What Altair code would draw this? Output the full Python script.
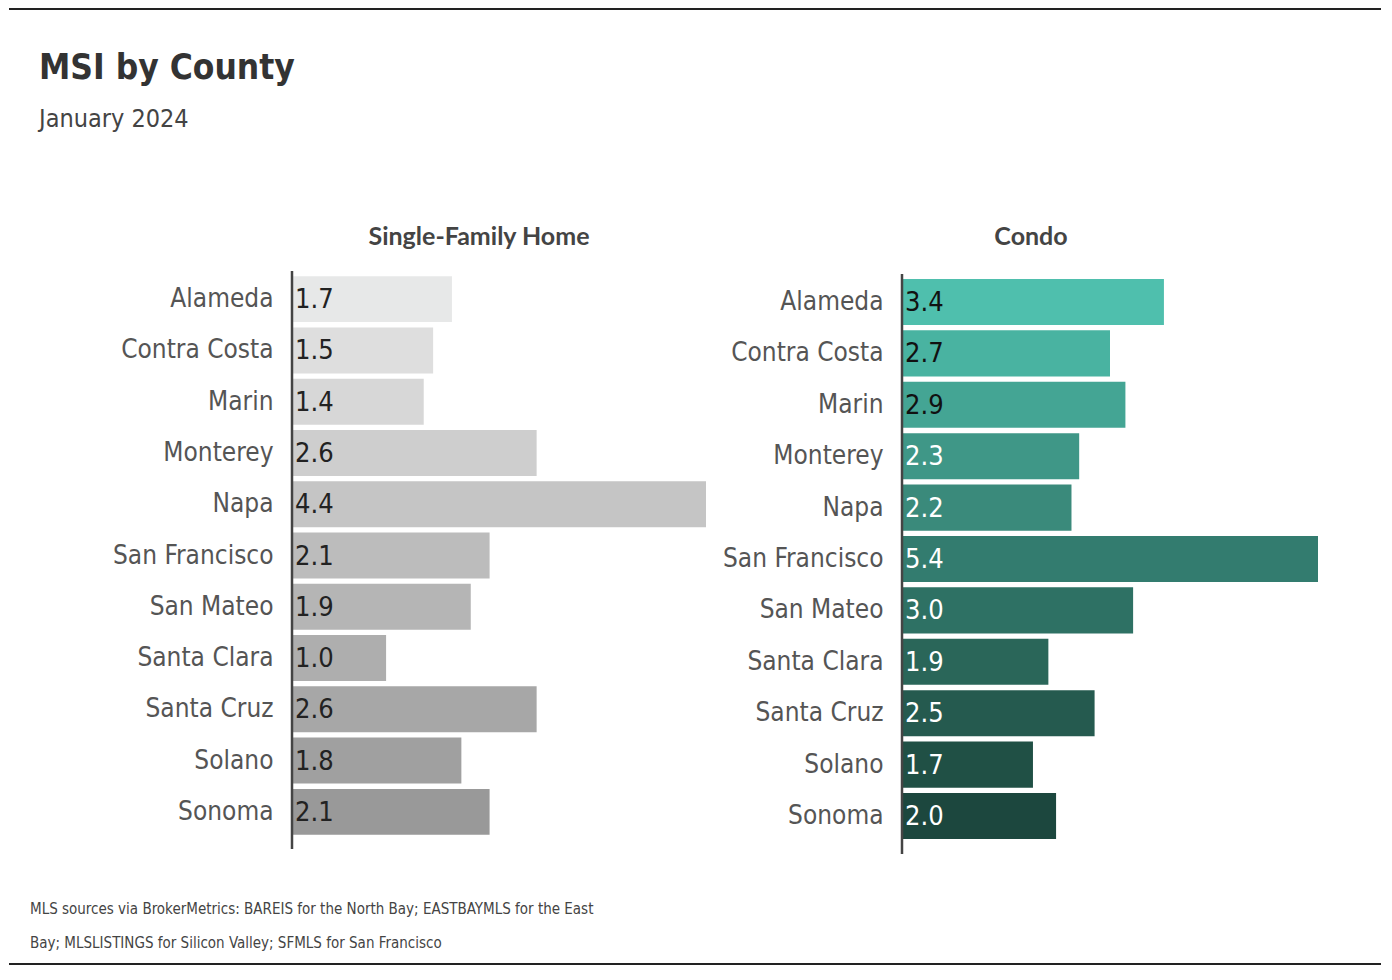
import altair as alt
import pandas as pd

counties = ["Alameda", "Contra Costa", "Marin", "Monterey", "Napa", "San Francisco",
            "San Mateo", "Santa Clara", "Santa Cruz", "Solano", "Sonoma"]
sfh_msi = [1.7, 1.5, 1.4, 2.6, 4.4, 2.1, 1.9, 1.0, 2.6, 1.8, 2.1]
condo_msi = [3.4, 2.7, 2.9, 2.3, 2.2, 5.4, 3.0, 1.9, 2.5, 1.7, 2.0]

grey_colors = ["#e7e8e8", "#dedede", "#d7d7d7", "#cecece", "#c5c5c5", "#bcbcbc",
               "#b5b5b5", "#aeaeae", "#a7a7a7", "#a0a0a0", "#999999"]
teal_colors = ["#4fbfad", "#49b3a1", "#44a594", "#3f9787", "#3a8a7b", "#337c6f",
               "#2e7164", "#2a6659", "#255a4f", "#205045", "#1c473e"]
sfh_text_colors = ["#222222"] * 11
condo_text_colors = ["#111111"] * 3 + ["#ffffff"] * 8

title = "MSI by County"
subtitle = "January 2024"
panel_titles = ["Single-Family Home", "Condo"]
footnote = ["MLS sources via BrokerMetrics: BAREIS for the North Bay; EASTBAYMLS for the East",
            "Bay; MLSLISTINGS for Silicon Valley; SFMLS for San Francisco"]

NARROW = "'Liberation Sans Narrow', 'DejaVu Sans Condensed', 'Roboto Condensed', sans-serif"
BOLD = "Lato, 'Open Sans', sans-serif"


def text_layer(txt, x, y, **kw):
    return alt.Chart(pd.DataFrame({"t": [txt]})).mark_text(**kw).encode(
        x=alt.value(x), y=alt.value(y), text="t:N")


def rule_layer(x, x2, y, y2=None, **kw):
    enc = dict(x=alt.value(x), y=alt.value(y))
    if x2 is not None:
        enc["x2"] = alt.value(x2)
    if y2 is not None:
        enc["y2"] = alt.value(y2)
    return alt.Chart(pd.DataFrame({"k": [0]})).mark_rule(**kw).encode(**enc)


def panel(values, fills, tcolors, ptitle, title_x, width, height, pad_outer, ay0, ay1):
    df = pd.DataFrame({"county": counties, "msi": values})
    base = alt.Chart(df)
    yscale = alt.Scale(paddingInner=0.103, paddingOuter=pad_outer)
    y = alt.Y("county:N", sort=counties, title=None, scale=yscale,
              axis=alt.Axis(domain=False, ticks=False, labelFont=NARROW, labelFontSize=26,
                            labelColor="#555555", labelPadding=19, labelLimit=400, grid=False))
    x = alt.X("msi:Q", scale=alt.Scale(domain=[0, max(values)], nice=False), axis=None)
    bars = base.mark_bar().encode(
        x=x, y=y,
        fill=alt.Fill("county:N", scale=alt.Scale(domain=counties, range=fills), legend=None),
    )
    labels = base.mark_text(align="left", baseline="middle", dx=3, dy=1, font=NARROW, fontSize=27).encode(
        x=alt.value(0), y=alt.Y("county:N", sort=counties, scale=yscale),
        text=alt.Text("msi:Q", format=".1f"),
        color=alt.Color("county:N", scale=alt.Scale(domain=counties, range=tcolors), legend=None),
    )
    axis_line = rule_layer(0, None, ay0, ay1, color="#444444", strokeWidth=2.5)
    ttl = text_layer(ptitle, title_x, -26, font=BOLD, fontSize=25, fontWeight="bold",
                     color="#444444", align="center", baseline="alphabetic")
    return [bars, labels, axis_line, ttl], width, height


l_layers, lw, lh = panel(sfh_msi, grey_colors, sfh_text_colors, panel_titles[0], 187, 414, 569, 0.1, 0, 578)
r_layers, rw, rh = panel(condo_msi, teal_colors, condo_text_colors, panel_titles[1], 129, 416, 576, 0.155, 3, 583)

extras = [
    rule_layer(-283, 1089, -262, color="#222222", strokeWidth=2),
    text_layer(title, -253, -192, font=NARROW, fontSize=35, fontWeight="bold", color="#333333",
               align="left", baseline="alphabetic"),
    text_layer(subtitle, -253, -144, font=NARROW, fontSize=25, color="#444444",
               align="left", baseline="alphabetic"),
    text_layer(footnote[0], -262, 643, font=NARROW, fontSize=15, color="#444444",
               align="left", baseline="alphabetic"),
    text_layer(footnote[1], -262, 677, font=NARROW, fontSize=15, color="#444444",
               align="left", baseline="alphabetic"),
    rule_layer(-283, 1089, 693, color="#222222", strokeWidth=2),
]

left = alt.layer(*(l_layers + extras)).properties(width=lw, height=lh).resolve_scale(
    fill="independent", color="independent")
right = alt.layer(*r_layers).properties(width=rw, height=rh).resolve_scale(
    fill="independent", color="independent")

chart = alt.hconcat(left, right, spacing=196, bounds="flush").resolve_scale(
    x="independent", y="independent", fill="independent", color="independent"
).configure_view(stroke=None).properties(padding=0, background="white")

chart.save("out.html", embed_options={"renderer": "svg", "actions": False})
